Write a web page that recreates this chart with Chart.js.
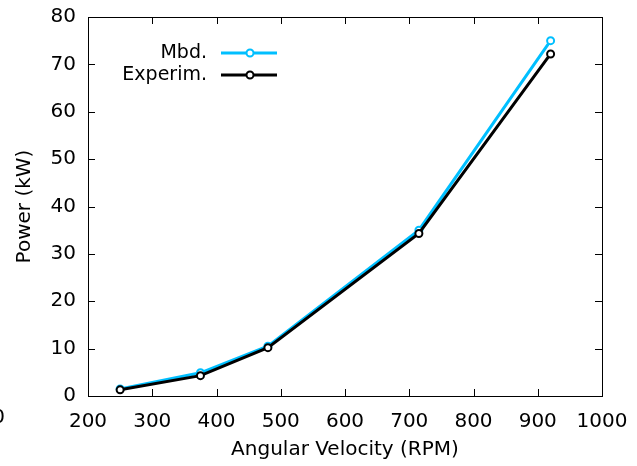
<!DOCTYPE html>
<html>
<head>
<meta charset="utf-8">
<script src="https://cdn.jsdelivr.net/npm/chart.js@4.4.1/dist/chart.umd.min.js"></script>
<style>
  html, body { margin: 0; padding: 0; background: #fff; }
  #wrap { width: 637px; height: 466px; }
</style>
</head>
<body>
<div id="wrap"><canvas id="c" width="637" height="466"></canvas></div>
<script>
// valores
const rpm = [250, 375, 480, 715, 920];
const mbd = [1.5, 4.9, 10.5, 35.0, 75.0];
const experim = [1.3, 4.3, 10.2, 34.3, 72.2];
const seriesNames = ["Mbd.", "Experim."];
const xTicks = [200, 300, 400, 500, 600, 700, 800, 900, 1000];
const yTicks = [0, 10, 20, 30, 40, 50, 60, 70, 80];

const C = { cyan: "#00bfff", black: "#000000" };
const FONT = '"DejaVu Sans", sans-serif';

Chart.defaults.font.family = FONT;
Chart.defaults.font.size = 20;
Chart.defaults.color = "#000";

const pts = (ys) => rpm.map((x, i) => ({ x, y: ys[i] }));

// caixa + marcas para dentro nos 4 lados (estilo gnuplot)
const frame = {
  id: "frame",
  afterDraw(chart) {
    const { ctx, chartArea: a, scales: { x, y } } = chart;
    const L = 7;
    ctx.save();
    ctx.strokeStyle = "#000";
    ctx.lineWidth = 1;
    ctx.beginPath();
    xTicks.forEach((v) => {
      const px = Math.round(x.getPixelForValue(v)) + 0.5;
      ctx.moveTo(px, a.bottom); ctx.lineTo(px, a.bottom - L);
      ctx.moveTo(px, a.top); ctx.lineTo(px, a.top + L);
    });
    yTicks.forEach((v) => {
      const py = Math.round(y.getPixelForValue(v)) + 0.5;
      ctx.moveTo(a.left, py); ctx.lineTo(a.left + L, py);
      ctx.moveTo(a.right, py); ctx.lineTo(a.right - L, py);
    });
    ctx.stroke();
    ctx.strokeRect(Math.round(a.left) + 0.5, Math.round(a.top) + 0.5,
      Math.round(a.right - a.left), Math.round(a.bottom - a.top));
    ctx.restore();
  },
};

// legenda com texto à esquerda da amostra
const keyBox = {
  id: "keyBox",
  afterDraw(chart) {
    const { ctx } = chart;
    ctx.save();
    ctx.font = "19px " + FONT;
    ctx.textAlign = "right";
    ctx.textBaseline = "middle";
    chart.data.datasets.forEach((ds, i) => {
      const yy = 53 + i * 22;
      ctx.fillStyle = "#000";
      ctx.fillText(ds.label, 207, yy);
      ctx.strokeStyle = ds.borderColor;
      ctx.lineWidth = 3;
      ctx.beginPath(); ctx.moveTo(221, yy); ctx.lineTo(277, yy); ctx.stroke();
      ctx.lineWidth = 2;
      ctx.fillStyle = "#fff";
      ctx.beginPath(); ctx.arc(250, yy, 3.5, 0, Math.PI * 2); ctx.fill(); ctx.stroke();
    });
    // rótulo cortado na margem esquerda
    ctx.fillStyle = "#000";
    ctx.font = "20px " + FONT;
    ctx.fillText("0", 5, 418);
    ctx.restore();
  },
};

new Chart(document.getElementById("c"), {
  type: "line",
  data: {
    datasets: [
      { label: seriesNames[0], data: pts(mbd), borderColor: C.cyan, pointBorderColor: C.cyan,
        pointBackgroundColor: "#fff", borderWidth: 3, pointRadius: 3.5, pointBorderWidth: 2, order: 1 },
      { label: seriesNames[1], data: pts(experim), borderColor: C.black, pointBorderColor: C.black,
        pointBackgroundColor: "#fff", borderWidth: 3, pointRadius: 3.5, pointBorderWidth: 2, order: 0 },
    ],
  },
  options: {
    responsive: false, animation: false,
    layout: { padding: { top: 17, right: 35, left: 0, bottom: 0 } },
    plugins: { legend: { display: false }, tooltip: { enabled: false } },
    scales: {
      x: {
        type: "linear", min: 200, max: 1000,
        ticks: { stepSize: 100, padding: 6, maxRotation: 0, callback: (v) => String(v) },
        grid: { display: false }, border: { display: false },
        title: { display: true, text: "Angular Velocity (RPM)", padding: { top: 0, bottom: 4 } },
        afterFit: (s) => { s.height = 70; s.paddingLeft = 0; s.paddingRight = 0; },
      },
      y: {
        min: 0, max: 80,
        ticks: { stepSize: 10, padding: 4 },
        grid: { display: false }, border: { display: false },
        title: { display: true, text: "Power (kW)", padding: { top: 13, bottom: 0 } },
        afterFit: (s) => { s.width = 88; s.paddingTop = 0; s.paddingBottom = 0; },
      },
    },
  },
  plugins: [frame, keyBox],
});
</script>
</body>
</html>
